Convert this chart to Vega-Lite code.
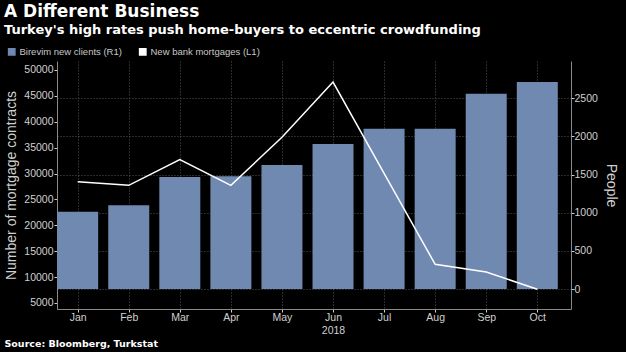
{
  "$schema": "https://vega.github.io/schema/vega-lite/v6.json",
  "width": 514,
  "height": 248,
  "autosize": {"type": "none"},
  "padding": {"left": 57, "top": 61, "right": 55, "bottom": 43},
  "background": "#000000",
  "title": {
    "text": "A Different Business",
    "subtitle": "Turkey's high rates push home-buyers to eccentric crowdfunding",
    "anchor": "start",
    "frame": "group",
    "dx": -53,
    "offset": 9,
    "font": "DejaVu Sans",
    "fontSize": 17,
    "fontWeight": "bold",
    "color": "#ffffff",
    "subtitleFont": "DejaVu Sans",
    "subtitleFontSize": 13,
    "subtitleFontWeight": "bold",
    "subtitleColor": "#ffffff",
    "subtitlePadding": 3
  },
  "config": {
    "view": {"stroke": null},
    "axis": {
      "labelFont": "Liberation Sans",
      "titleFont": "Liberation Sans",
      "labelColor": "#d0d0d0",
      "titleColor": "#d0d0d0",
      "labelFontSize": 10.5,
      "titleFontSize": 14,
      "titleFontWeight": "normal",
      "domainColor": "#8a8a8a",
      "tickColor": "#d0d0d0",
      "tickSize": 3,
      "gridColor": "#555555",
      "gridDash": [1, 2]
    }
  },
  "data": {
    "values": [
      {"m": 1, "month": "Jan", "clients": 1013, "mortgages": 28430},
      {"m": 2, "month": "Feb", "clients": 1097, "mortgages": 27730},
      {"m": 3, "month": "Mar", "clients": 1468, "mortgages": 32680},
      {"m": 4, "month": "Apr", "clients": 1477, "mortgages": 27730},
      {"m": 5, "month": "May", "clients": 1626, "mortgages": 37000},
      {"m": 6, "month": "Jun", "clients": 1901, "mortgages": 47680},
      {"m": 7, "month": "Jul", "clients": 2102, "mortgages": 30050},
      {"m": 8, "month": "Aug", "clients": 2102, "mortgages": 12475},
      {"m": 9, "month": "Sep", "clients": 2560, "mortgages": 10990},
      {"m": 10, "month": "Oct", "clients": 2714, "mortgages": 7650}
    ]
  },
  "encoding": {
    "x": {
      "field": "m",
      "type": "quantitative",
      "scale": {"domain": [0.595, 10.66], "nice": false, "zero": false, "padding": 0},
      "axis": {
        "values": [1, 2, 3, 4, 5, 6, 7, 8, 9, 10],
        "labelExpr": "datum.value == 6 ? ['Jun', '2018\u00a0\u00a0\u00a0\u00a0\u00a0\u00a0\u00a0'] : ['Jan','Feb','Mar','Apr','May','Jun','Jul','Aug','Sep','Oct'][datum.value - 1]",
        "grid": true,
        "labelPadding": 0,
        "labelLineHeight": 13,
        "title": "Source: Bloomberg, Turkstat",
        "titleFont": "DejaVu Sans",
        "titleAnchor": "start",
        "titleAlign": "left",
        "titleX": -53,
        "titleY": 29,
        "titleColor": "#ffffff",
        "titleFontWeight": "bold",
        "titleFontSize": 9.5
      }
    }
  },
  "layer": [
    {
      "mark": {"type": "bar", "size": 41},
      "encoding": {
        "y": {
          "field": "clients",
          "type": "quantitative",
          "scale": {"domain": [-262, 2989], "nice": false, "zero": false},
          "axis": {
            "orient": "right",
            "title": "People",
            "values": [0, 500, 1000, 1500, 2000, 2500],
            "format": "d",
            "grid": true,
            "labelPadding": 0,
            "titlePadding": 6
          }
        },
        "y2": {"datum": 0},
        "color": {
          "datum": "Birevim new clients (R1)",
          "type": "nominal",
          "scale": {
            "domain": ["Birevim new clients (R1)", "New bank mortgages (L1)"],
            "range": ["#7089b0", "#ffffff"]
          },
          "legend": {
            "orient": "none",
            "legendX": -50,
            "legendY": -14,
            "direction": "horizontal",
            "title": null,
            "symbolType": "square",
            "symbolSize": 40,
            "symbolOpacity": 1,
            "labelFont": "Liberation Sans",
            "labelFontSize": 9.5,
            "labelColor": "#c8c8c8",
            "columnPadding": 14,
            "labelOffset": 3
          }
        }
      }
    },
    {
      "mark": {"type": "line", "strokeWidth": 1.5, "color": "#e6e6e6"},
      "encoding": {
        "y": {
          "field": "mortgages",
          "type": "quantitative",
          "scale": {"domain": [3841, 51738], "nice": false, "zero": false},
          "axis": {
            "orient": "left",
            "title": "Number of mortgage contracts",
            "values": [5000, 10000, 15000, 20000, 25000, 30000, 35000, 40000, 45000, 50000],
            "format": "d",
            "grid": false,
            "labelPadding": 1,
            "titlePadding": 5
          }
        },
        "color": {
          "datum": "New bank mortgages (L1)",
          "type": "nominal"
        }
      }
    }
  ],
  "resolve": {"scale": {"y": "independent"}}
}
